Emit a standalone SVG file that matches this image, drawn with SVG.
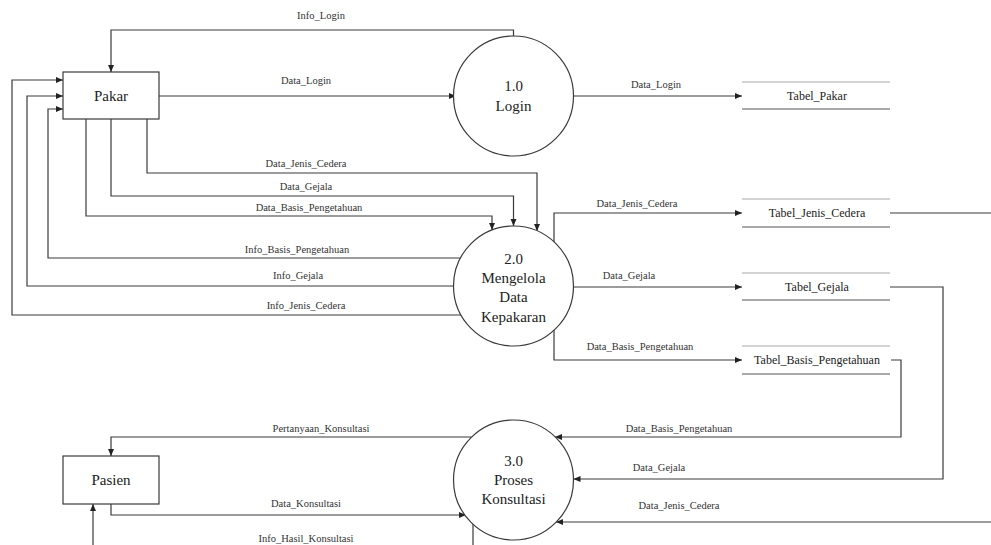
<svg xmlns="http://www.w3.org/2000/svg" width="991" height="545" viewBox="0 0 991 545" font-family="Liberation Serif, DejaVu Serif, serif">
<style>
.c{fill:none;stroke:#3a3a3a;stroke-width:1.2}
.n{fill:#fff;stroke:#3a3a3a;stroke-width:1.2}
.lbl{font-size:10.5px;fill:#333;text-anchor:middle}
.t{font-size:15px;fill:#222;text-anchor:middle}
.st{font-size:12px;fill:#222;text-anchor:middle}
.top{stroke:#aaa;stroke-width:1.2}
.bot{stroke:#555;stroke-width:1.2}
</style>
<defs>
<marker id="a" markerWidth="7" markerHeight="7" refX="7" refY="3.5" orient="auto" markerUnits="userSpaceOnUse">
<path d="M0,0.5 L7,3.5 L0,6.5 z" fill="#222"/>
</marker>
</defs>
<rect width="991" height="545" fill="#fff"/>
<g id="connectors">
<path class="c" marker-end="url(#a)" d="M513.5,36 V30 H111 V72"/>
<path class="c" marker-end="url(#a)" d="M159,96 H456"/>
<path class="c" marker-end="url(#a)" d="M573.5,96 H742"/>
<path class="c" marker-end="url(#a)" d="M147,119 V173 H537 V231"/>
<path class="c" marker-end="url(#a)" d="M111,119 V196 H513.5 V226"/>
<path class="c" marker-end="url(#a)" d="M86,119 V216 H492 V230"/>
<path class="c" marker-end="url(#a)" d="M460,258 H48 V109 H63"/>
<path class="c" marker-end="url(#a)" d="M453.5,286 H27 V96 H63"/>
<path class="c" marker-end="url(#a)" d="M461,315 H12 V80 H63"/>
<path class="c" marker-end="url(#a)" d="M554,242 V213 H742"/>
<path class="c" marker-end="url(#a)" d="M573.5,287 H742"/>
<path class="c" marker-end="url(#a)" d="M554,330 V360 H742"/>
<path class="c" d="M890,213 H991"/>
<path class="c" marker-end="url(#a)" d="M890,287 H943 V479 H573.5"/>
<path class="c" marker-end="url(#a)" d="M891,360 H901 V437 H555"/>
<path class="c" marker-end="url(#a)" d="M991,522 H556"/>
<path class="c" marker-end="url(#a)" d="M471.5,437 H111 V456"/>
<path class="c" marker-end="url(#a)" d="M111,504 V515 H466"/>
<path class="c" marker-end="url(#a)" d="M473,524 V560 H93 V504"/>
<text class="lbl" x="321" y="19">Info_Login</text>
<text class="lbl" x="306" y="84">Data_Login</text>
<text class="lbl" x="656" y="88">Data_Login</text>
<text class="lbl" x="306" y="167">Data_Jenis_Cedera</text>
<text class="lbl" x="306" y="190">Data_Gejala</text>
<text class="lbl" x="309" y="211">Data_Basis_Pengetahuan</text>
<text class="lbl" x="297" y="253">Info_Basis_Pengetahuan</text>
<text class="lbl" x="298" y="279">Info_Gejala</text>
<text class="lbl" x="306" y="309">Info_Jenis_Cedera</text>
<text class="lbl" x="637" y="207">Data_Jenis_Cedera</text>
<text class="lbl" x="629" y="279">Data_Gejala</text>
<text class="lbl" x="640" y="350">Data_Basis_Pengetahuan</text>
<text class="lbl" x="679" y="432">Data_Basis_Pengetahuan</text>
<text class="lbl" x="659" y="471">Data_Gejala</text>
<text class="lbl" x="679" y="509">Data_Jenis_Cedera</text>
<text class="lbl" x="321" y="432">Pertanyaan_Konsultasi</text>
<text class="lbl" x="306" y="507">Data_Konsultasi</text>
<text class="lbl" x="306" y="542">Info_Hasil_Konsultasi</text>
</g>
<g id="pakar">
<rect class="n" x="63" y="72" width="96" height="47"/>
<text class="t" x="111" y="101">Pakar</text>
</g>
<g id="pasien">
<rect class="n" x="63" y="456" width="96" height="48"/>
<text class="t" x="111" y="485">Pasien</text>
</g>
<g id="p1">
<circle class="n" cx="513.5" cy="96" r="60"/>
<text class="t" x="513.5" y="91">1.0</text>
<text class="t" x="513.5" y="111">Login</text>
</g>
<g id="p2">
<circle class="n" cx="513.5" cy="286" r="60"/>
<text class="t" x="513.5" y="264">2.0</text>
<text class="t" x="513.5" y="283">Mengelola</text>
<text class="t" x="513.5" y="302">Data</text>
<text class="t" x="513.5" y="322">Kepakaran</text>
</g>
<g id="p3">
<circle class="n" cx="513.5" cy="480" r="60"/>
<text class="t" x="513.5" y="466">3.0</text>
<text class="t" x="513.5" y="485">Proses</text>
<text class="t" x="513.5" y="504">Konsultasi</text>
</g>
<g id="tabel_pakar">
<line class="top" x1="742" y1="82" x2="890" y2="82"/>
<line class="bot" x1="742" y1="109" x2="890" y2="109"/>
<text class="st" x="817" y="100">Tabel_Pakar</text>
</g>
<g id="tabel_jenis_cedera">
<line class="top" x1="742" y1="199" x2="890" y2="199"/>
<line class="bot" x1="742" y1="227" x2="890" y2="227"/>
<text class="st" x="817" y="217">Tabel_Jenis_Cedera</text>
</g>
<g id="tabel_gejala">
<line class="top" x1="742" y1="273" x2="890" y2="273"/>
<line class="bot" x1="742" y1="300" x2="890" y2="300"/>
<text class="st" x="817" y="291">Tabel_Gejala</text>
</g>
<g id="tabel_basis_pengetahuan">
<line class="top" x1="742" y1="346" x2="890" y2="346"/>
<line class="bot" x1="742" y1="374" x2="890" y2="374"/>
<text class="st" x="817" y="364">Tabel_Basis_Pengetahuan</text>
</g>
</svg>
